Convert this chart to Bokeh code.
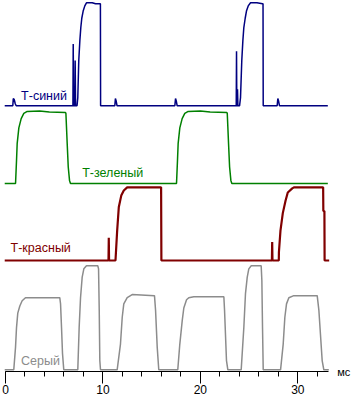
from bokeh.plotting import figure
from bokeh.models import Range1d, SingleIntervalTicker, Label
from bokeh.embed import file_html
from bokeh.resources import INLINE

# time in ms, brightness in % (100 % = top of blue pulse)
blue_t = [-0.08, 0.75, 0.8, 0.9, 1.0, 1.1, 6.92, 6.95, 6.99, 7.12, 7.15, 7.19, 7.34, 7.42, 7.52, 7.63,
          7.73, 7.83, 7.97, 8.14, 8.31, 8.9, 9.24, 9.74, 9.76, 11.22, 11.28, 11.35, 11.45, 17.38, 17.45,
          17.52, 17.62, 23.68, 23.71, 23.74, 23.78, 23.81, 23.85, 24.02, 24.12, 24.25, 24.36, 24.46,
          24.6, 24.73, 24.91, 25.15, 25.8, 26.38, 26.43, 26.45, 27.88, 27.95, 28.02, 28.12, 33.08]
blue_v = [0, 0, 7, 6, 2, 0, 0, 60, 0, 0, 44, 0, 0, 8, 44, 63,
          76, 85, 92, 97, 100, 100, 99, 99, 0, 0, 7, 5, 0, 0, 7,
          5, 0, 0, 53, 0, 0, 16, 0, 0, 8, 44, 63, 76,
          85, 92, 97, 100, 100, 99, 99, 0, 0, 7, 5, 0, 0]

green_t = [-0.08, 1.03, 1.04, 1.13, 1.2, 1.37, 1.61, 1.88, 2.23, 3.5, 4.5, 6.16, 6.2, 6.33, 6.44, 6.57,
           6.67, 17.55, 17.56, 17.65, 17.72, 17.89, 18.13, 18.4, 18.75, 20.0, 21.0, 22.72, 22.76, 22.89,
           23.0, 23.13, 23.23, 33.08]
green_v = [0, 0, 2, 22, 39, 54, 63, 68, 70, 70.5, 69.5, 69, 68, 39, 16, 3,
           0, 0, 2, 22, 39, 54, 63, 68, 70, 70.5, 69.5, 69, 68, 39,
           16, 3, 0, 0]

red_t = [-0.08, 10.57, 10.6, 10.63, 11.29, 11.3, 11.46, 11.63, 11.88, 12.14, 12.49, 15.97, 16.0,
         27.34, 27.37, 27.4, 28.05, 28.06, 28.22, 28.46, 28.74, 28.97, 29.43, 29.6, 32.6, 32.62, 32.73,
         32.75, 33.22]
red_v = [0, 0, 22, 0, 0, 2, 29, 52, 63, 68, 71, 71, 0,
         0, 18, 0, 0, 8, 29, 46, 58, 66, 70, 71, 71, 48, 48,
         0, 0]

gray_t = [-0.08, 0.85, 1.03, 1.13, 1.26, 1.47, 1.71, 2.05, 5.57, 5.65, 5.75, 5.85, 5.98,
          7.42, 7.56, 7.7, 7.87, 8.04, 8.31, 9.47, 9.55, 9.62, 9.68, 9.75,
          11.46, 11.8, 11.98, 12.14, 12.49, 13.0, 15.29, 15.4, 15.57, 15.73,
          17.68, 17.89, 18.14, 18.3, 18.58, 18.81, 19.33, 22.41, 22.48, 22.68, 22.82,
          24.19, 24.46, 24.63, 24.81, 24.97, 25.22, 26.24, 26.31, 26.38, 26.45,
          28.23, 28.5, 28.67, 28.84, 29.08, 29.59, 31.99, 32.16, 32.5, 32.67, 33.18]
gray_v = [0, 0, 22, 41, 55, 62, 67, 70, 70, 64, 41, 16, 0,
          0, 41, 70, 90, 98, 101, 101, 98, 58, 9, 0,
          0, 25, 51, 64, 70, 73, 72, 58, 22, 0,
          0, 25, 48, 60, 68, 70, 71, 71, 58, 9, 0,
          0, 41, 74, 90, 98, 101, 101, 87, 40, 0,
          0, 25, 51, 64, 70, 72, 72, 58, 9, 0, 0]

names = ["Т-синий", "Т-зеленый", "Т-красный", "Серый"]
x_ticks_major = 10
unit_label = "мс"

# layout (trace offsets / scale / colours)
SCALE = 1.03
bases = [265.7, 188.0, 111.0, 1.7]
colors = ["#000080", "#008000", "#800000", "#8c8c8c"]
widths = [1.5, 1.5, 2.2, 1.5]
label_pos = [(1.6, 275.5), (7.87, 198.5), (0.52, 124.0), (1.6, 10.5)]

p = figure(frame_width=351, frame_height=396, min_border=0, output_backend="svg",
           toolbar_location=None, x_range=Range1d(-0.513, 35.51), y_range=Range1d(-25, 371),
           y_axis_location=None, background_fill_color="white", border_fill_color="white")
p.outline_line_color = None
p.grid.visible = False

series = [(blue_t, blue_v), (green_t, green_v), (red_t, red_v), (gray_t, gray_v)]
for (ts, vs), b, c, w in zip(series, bases, colors, widths):
    p.line(ts, [b + v * SCALE for v in vs], line_color=c, line_width=w)

for name, (lx, ly), c in zip(names, label_pos, colors):
    p.add_layout(Label(x=lx, y=ly, text=name, text_color=c, text_font="Liberation Sans",
                       text_font_size="12.5px", text_baseline="alphabetic"))

p.add_layout(Label(x=34.05, y=0, text=unit_label, text_color="black", text_font="Liberation Sans",
                   text_font_size="11px", text_baseline="middle"))

ax = p.xaxis[0]
ax.fixed_location = 0
ax.ticker = SingleIntervalTicker(interval=x_ticks_major, num_minor_ticks=5)
ax.bounds = (0, 33.2)
ax.axis_line_color = "black"
ax.axis_line_width = 1
ax.major_tick_in = 0
ax.major_tick_out = 12
ax.minor_tick_in = 0
ax.minor_tick_out = 5
ax.major_tick_line_color = "black"
ax.minor_tick_line_color = "black"
ax.major_label_text_font = "Liberation Sans"
ax.major_label_text_font_size = "12px"
ax.major_label_text_color = "black"
ax.major_label_standoff = 1

open("out.html", "w").write(file_html(p, INLINE))
